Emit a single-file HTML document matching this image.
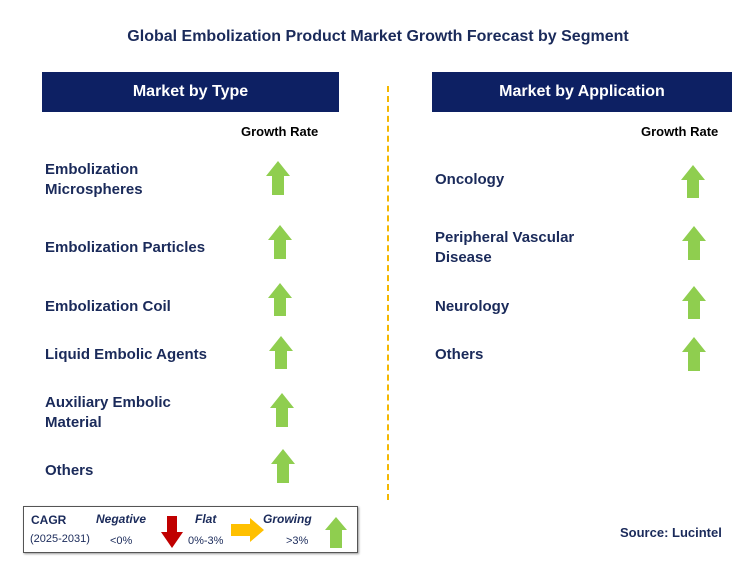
<!DOCTYPE html>
<html><head><meta charset="utf-8"><style>
body{margin:0;width:756px;height:565px;background:#fff;font-family:"Liberation Sans",Arial,sans-serif;position:relative;overflow:hidden}
.a{position:absolute}
.t{font-weight:bold;color:#1a2a5a;font-size:15px;line-height:20px}
.hdr{position:absolute;background:#0d2063;color:#fff;font-weight:bold;font-size:16px;text-align:center;line-height:40px;height:40px}
.gr{position:absolute;font-weight:bold;font-size:13px;color:#000}
</style></head><body>
<div class="a t" style="left:0;width:756px;top:27px;text-align:center;font-size:16px">Global Embolization Product Market Growth Forecast by Segment</div>
<div class="hdr" style="left:42px;top:72px;width:297px">Market by Type</div>
<div class="hdr" style="left:432px;top:72px;width:300px">Market by Application</div>
<div class="a" style="left:387px;top:86px;height:414px;border-left:2px dashed #f5b800"></div>
<div class="gr" style="left:241px;top:124px">Growth Rate</div>
<div class="gr" style="left:641px;top:124px">Growth Rate</div>
<div class="a t" style="left:45px;top:160px">Embolization<br>Microspheres</div>
<div class="a t" style="left:45px;top:238px">Embolization Particles</div>
<div class="a t" style="left:45px;top:297px">Embolization Coil</div>
<div class="a t" style="left:45px;top:345px">Liquid Embolic Agents</div>
<div class="a t" style="left:45px;top:393px">Auxiliary Embolic<br>Material</div>
<div class="a t" style="left:45px;top:461px">Others</div>
<div class="a t" style="left:435px;top:170px">Oncology</div>
<div class="a t" style="left:435px;top:228px">Peripheral Vascular<br>Disease</div>
<div class="a t" style="left:435px;top:297px">Neurology</div>
<div class="a t" style="left:435px;top:345px">Others</div>
<svg class="a" style="left:0;top:0" width="756" height="565">
<g fill="#8fce4f">
<g transform="translate(278,161)"><polygon points="0,0 12,15 6,15 6,34 -6,34 -6,15 -12,15"/></g>
<g transform="translate(280,225)"><polygon points="0,0 12,15 6,15 6,34 -6,34 -6,15 -12,15"/></g>
<g transform="translate(280,283)"><polygon points="0,0 12,15 6,15 6,33 -6,33 -6,15 -12,15"/></g>
<g transform="translate(281,336)"><polygon points="0,0 12,15 6,15 6,33 -6,33 -6,15 -12,15"/></g>
<g transform="translate(282,393)"><polygon points="0,0 12,15 6,15 6,34 -6,34 -6,15 -12,15"/></g>
<g transform="translate(283,449)"><polygon points="0,0 12,15 6,15 6,34 -6,34 -6,15 -12,15"/></g>
<g transform="translate(693,165)"><polygon points="0,0 12,15 6,15 6,33 -6,33 -6,15 -12,15"/></g>
<g transform="translate(694,226)"><polygon points="0,0 12,15 6,15 6,34 -6,34 -6,15 -12,15"/></g>
<g transform="translate(694,286)"><polygon points="0,0 12,15 6,15 6,33 -6,33 -6,15 -12,15"/></g>
<g transform="translate(694,337)"><polygon points="0,0 12,15 6,15 6,34 -6,34 -6,15 -12,15"/></g>
</g>
</svg>
<div class="a" style="left:23px;top:506px;width:333px;height:45px;border:1px solid #555;box-shadow:1px 1px 2px #999"></div>
<div class="a" style="left:31px;top:513px;font-size:12px;font-weight:bold;color:#1a2a5a">CAGR</div>
<div class="a" style="left:30px;top:533px;font-size:11px;color:#1a2a5a">(2025-2031)</div>
<div class="a" style="left:96px;top:512px;font-size:12px;font-weight:bold;font-style:italic;color:#1a2a5a">Negative</div>
<div class="a" style="left:110px;top:535px;font-size:11px;color:#1a2a5a">&lt;0%</div>
<div class="a" style="left:195px;top:512px;font-size:12px;font-weight:bold;font-style:italic;color:#1a2a5a">Flat</div>
<div class="a" style="left:188px;top:535px;font-size:11px;color:#1a2a5a">0%-3%</div>
<div class="a" style="left:263px;top:512px;font-size:12px;font-weight:bold;font-style:italic;color:#1a2a5a">Growing</div>
<div class="a" style="left:286px;top:535px;font-size:11px;color:#1a2a5a">&gt;3%</div>
<svg class="a" style="left:0;top:0" width="756" height="565">
<polygon fill="#c00000" points="167,516 177,516 177,532 183,532 172,548 161,532 167,532"/>
<polygon fill="#ffc000" points="231,524 250,524 250,518 264,530 250,542 250,536 231,536"/>
<polygon fill="#8fce4f" points="336,517 347,530 342,530 342,548 330,548 330,530 325,530"/>
</svg>
<div class="a" style="left:620px;top:525px;font-size:13px;font-weight:bold;color:#1a2a5a">Source: Lucintel</div>
</body></html>
